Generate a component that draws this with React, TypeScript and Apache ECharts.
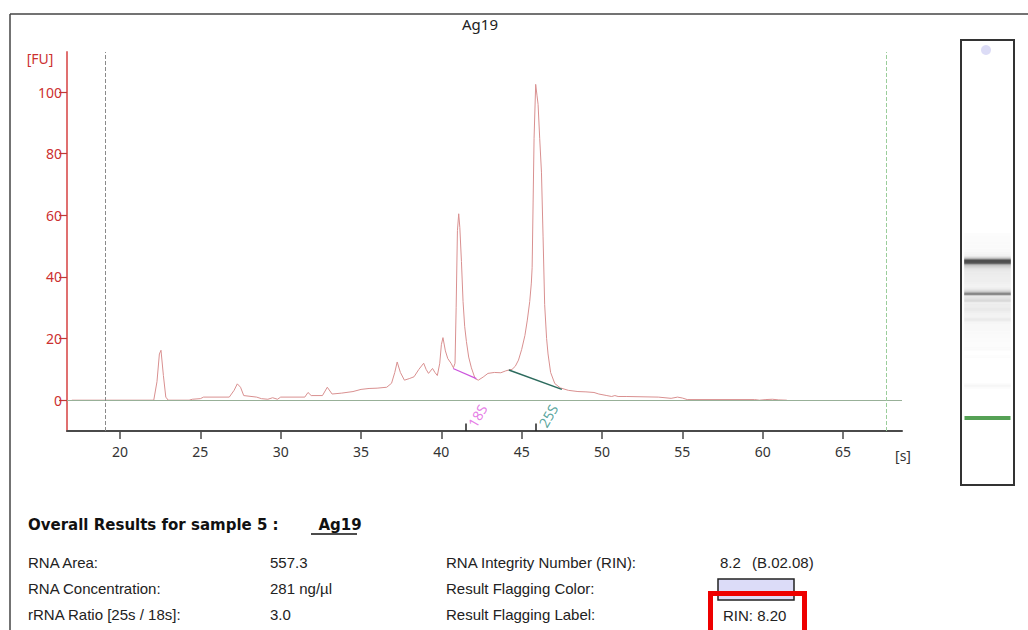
import React, { useEffect, useRef } from "react";
import * as echarts from "echarts";

const sampleName = "Ag19";

// Electropherogram trace: migration time [s] and fluorescence [FU]
const traceTime = [
  17.0, 22.1, 22.3, 22.45, 22.55, 22.7, 22.85, 23.0, 24.3, 24.5, 25.0, 25.2, 26.8, 27.1, 27.3, 27.5, 27.7,
  28.5, 28.8, 29.2, 29.5, 29.8, 30.0, 31.5, 31.7, 31.9, 32.6, 32.9, 33.2, 33.8, 34.5, 35.0, 35.5, 36.0,
  36.6, 36.9, 37.1, 37.25, 37.45, 37.7, 38.0, 38.3, 38.6, 38.9, 39.05, 39.2, 39.45, 39.6, 39.75, 39.9,
  40.0, 40.1, 40.25, 40.4, 40.6, 40.75, 40.85, 40.92, 41.0, 41.08, 41.15, 41.25, 41.35, 41.45, 41.56,
  41.7, 41.87, 42.1, 42.3, 42.6, 42.9, 43.3, 43.7, 44.0, 44.2, 44.4, 44.6, 44.8, 45.0, 45.2, 45.35, 45.5,
  45.6, 45.65, 45.71, 45.77, 45.87, 45.95, 46.02, 46.12, 46.23, 46.33, 46.43, 46.55, 46.64, 46.8, 47.06,
  47.4, 47.9, 48.5, 49.0, 49.5, 49.8, 50.3, 50.6, 50.8, 51.0, 51.5, 53.5, 54.3, 54.7, 55.0, 55.3, 59.5,
  59.8, 60.2, 60.6, 61.0, 61.5,
];
const traceFU = [
  0, 0, 6, 15, 16.2, 8, 1, 0, 0, 0.3, 0.5, 1.0, 1.0, 3.2, 5.3, 4.2, 1.5,
  1.0, 0.5, 0.3, 0.8, 0.3, 1.0, 1.0, 2.5, 1.5, 1.5, 4.2, 2.0, 2.3, 2.8, 3.5, 3.8, 3.9,
  4.2, 5.5, 9.0, 12.4, 9.0, 6.5, 7.0, 7.6, 10.0, 12.0, 10.0, 8.7, 10.3, 9.0, 8.0, 12.0,
  18.0, 20.3, 16.0, 13.5, 12.0, 10.5, 12.0, 30.0, 55.0, 60.5, 56.0, 45.0, 32.0, 24.0, 19.0,
  14.0, 10.5, 7.0, 6.5, 7.5, 8.7, 9.0, 8.9, 9.5, 9.8, 10.0, 11.0, 13.0, 16.5, 21.0, 26.0, 32.0,
  38.0, 43.0, 64.0, 85.0, 102.5, 99.0, 96.0, 85.0, 74.0, 53.0, 31.0, 20.0, 15.0, 9.0, 5.4,
  4.0, 3.2, 2.8, 2.7, 2.5, 2.0, 1.5, 1.2, 1.5, 1.2, 1.2, 1.0, 0.6, 1.0, 0.7, 0.2, 0.2,
  0.0, 0.2, 0.3, 0.1, 0.0,
];

// Axis ticks
const xTicks = [20, 25, 30, 35, 40, 45, 50, 55, 60, 65];
const yTicks = [0, 20, 40, 60, 80, 100];

// Analysis window (dashed lines) and ladder marker
const windowStart = 19.07;
const windowEnd = 67.7;
const lowerMarkerTime = 22.5;

// rRNA fragment markers
const fragmentNames = ["18S", "25S"];
const fragmentTimes = [41.5, 45.9];
const fragmentColors = ["#e060e0", "#2f8f86"];

// Peak baselines [time, FU]
const baseline18STime = [40.73, 42.18];
const baseline18SFU = [10.3, 7.0];
const baseline25STime = [44.2, 47.5];
const baseline25SFU = [9.8, 3.5];

// Results table
const resultLabelsLeft = ["RNA Area:", "RNA Concentration:", "rRNA Ratio [25s / 18s]:"];
const resultValuesLeft = ["557.3", "281 ng/µl", "3.0"];
const resultLabelsRight = ["RNA Integrity Number (RIN):", "Result Flagging Color:", "Result Flagging Label:"];
const rinValue = "8.2";
const rinVersion = "(B.02.08)";
const flagLabel = "RIN: 8.20";

export default function App() {
  const ref = useRef<HTMLDivElement>(null);

  useEffect(() => {
    if (!ref.current) return;
    const chart = echarts.init(ref.current, undefined, { renderer: "svg" });

    const trace = traceTime.map((t, i) => [t, traceFU[i]]);
    const segments = traceTime.slice(0, -1).map((t, i) => [t, traceTime[i + 1], (traceFU[i] + traceFU[i + 1]) / 2]);

    const rowY = [562, 588, 614];
    const txt = (text: string, x: number, y: number, font: string, fill = "#222", align = "left") => ({
      type: "text",
      x,
      y,
      style: { text, font, fill, textAlign: align, textVerticalAlign: "middle" },
    });
    const rowFont = '15px "Liberation Sans", Arial, sans-serif';

    const graphics: any[] = [
      { type: "line", shape: { x1: 10, y1: 14, x2: 1028, y2: 14 }, style: { stroke: "#444", lineWidth: 1.5 } },
      { type: "line", shape: { x1: 10, y1: 14, x2: 10, y2: 630 }, style: { stroke: "#444", lineWidth: 1.5 } },
      txt(sampleName, 480, 24, '15px "Noto Sans", sans-serif', "#222", "center"),
      txt("[FU]", 40, 58, '14px "Noto Sans", sans-serif', "#cc3030", "center"),
      txt("[s]", 903, 455, '14px "Noto Sans", sans-serif', "#333", "center"),
      { type: "circle", shape: { cx: 986, cy: 50, r: 5 }, style: { fill: "#dcdcf6" }, z: 10 },
      txt("Overall Results for sample 5 :", 28, 525, 'bold 15px "DejaVu Sans", sans-serif', "#111"),
      txt("  " + sampleName, 308, 525, 'bold 15px "DejaVu Sans", sans-serif', "#111"),
      { type: "line", shape: { x1: 311, y1: 534, x2: 357, y2: 534 }, style: { stroke: "#111", lineWidth: 1.3 } },
    ];
    resultLabelsLeft.forEach((s, i) => graphics.push(txt(s, 28, rowY[i], rowFont)));
    resultValuesLeft.forEach((s, i) => graphics.push(txt(s, 270, rowY[i], rowFont)));
    resultLabelsRight.forEach((s, i) => graphics.push(txt(s, 446, rowY[i], rowFont)));
    graphics.push(txt(rinValue, 720, rowY[0], rowFont));
    graphics.push(txt(rinVersion, 752, rowY[0], rowFont));
    graphics.push({
      type: "rect",
      shape: { x: 718, y: 579, width: 76, height: 21 },
      style: { fill: "#dcdcf8", stroke: "#222", lineWidth: 1.5 },
    });
    graphics.push(txt(flagLabel, 723, rowY[2] + 1, rowFont));
    graphics.push({
      type: "rect",
      shape: { x: 710.5, y: 593.5, width: 94, height: 50 },
      style: { fill: "none", stroke: "#ee0000", lineWidth: 5 },
      z: 20,
    });

    chart.setOption({
      animation: false,
      backgroundColor: "#ffffff",
      grid: [
        { left: 67, right: 126, top: 52, bottom: 199 },
        { left: 961, top: 40, width: 53, height: 445, show: true, borderColor: "#333", borderWidth: 2, backgroundColor: "#fff" },
      ],
      xAxis: [
        {
          type: "value",
          gridIndex: 0,
          min: 16.7,
          max: 68.67,
          axisLine: { show: true, onZero: false, lineStyle: { color: "#4a4a4a", width: 2 } },
          axisTick: { show: true, length: 8, customValues: xTicks, lineStyle: { color: "#4a4a4a", width: 1.5 } },
          axisLabel: { customValues: xTicks, color: "#333", fontSize: 14, fontFamily: "Noto Sans", margin: 13 },
          splitLine: { show: false },
        },
        { type: "value", gridIndex: 1, min: 0, max: 1, show: false },
      ],
      yAxis: [
        {
          type: "value",
          gridIndex: 0,
          min: -10,
          max: 113,
          axisLine: { show: true, onZero: false, lineStyle: { color: "#e07070", width: 2 } },
          axisTick: { show: true, length: 8, customValues: yTicks, lineStyle: { color: "#c03838", width: 1.2 } },
          axisLabel: { customValues: yTicks, color: "#cc3030", fontSize: 14, fontFamily: "Noto Sans", margin: 5 },
          splitLine: { show: false },
        },
        { type: "value", gridIndex: 1, min: 12.45, max: 79.2, show: false },
      ],
      series: [
        {
          type: "line",
          name: "trace",
          data: trace,
          showSymbol: false,
          symbol: "none",
          lineStyle: { color: "#d99090", width: 1 },
          z: 4,
          markLine: {
            silent: true,
            symbol: "none",
            label: { show: false },
            data: [
              { yAxis: 0, lineStyle: { color: "#98b098", width: 1, type: "solid" } },
              { xAxis: windowStart, lineStyle: { color: "#8a8a8a", width: 1, type: "dashed" } },
              { xAxis: windowEnd, lineStyle: { color: "#9acd9a", width: 1, type: "dashed" } },
              ...fragmentTimes.map((t) => [
                { coord: [t, -10], lineStyle: { color: "#222", width: 1.5, type: "solid" } },
                { coord: [t, -7.6] },
              ]),
            ],
          },
        },
        {
          type: "line",
          data: baseline18STime.map((t, i) => [t, baseline18SFU[i]]),
          showSymbol: false,
          symbol: "none",
          lineStyle: { color: "#cc55dd", width: 1.2 },
          z: 5,
        },
        {
          type: "line",
          data: baseline25STime.map((t, i) => [t, baseline25SFU[i]]),
          showSymbol: false,
          symbol: "none",
          lineStyle: { color: "#2d6b5e", width: 1.5 },
          z: 5,
        },
        {
          type: "scatter",
          clip: false,
          symbolSize: 0,
          z: 6,
          data: fragmentTimes.map((t, i) => ({
            value: [t, -10],
            label: {
              show: true,
              formatter: fragmentNames[i],
              color: fragmentColors[i],
              position: [6, -5],
              rotate: 60,
              align: "left",
              verticalAlign: "middle",
              fontSize: 14,
              fontFamily: "Noto Sans",
            },
          })),
        },
        {
          type: "custom",
          xAxisIndex: 1,
          yAxisIndex: 1,
          clip: true,
          data: segments,
          renderItem: (params: any, api: any) => {
            const t1 = api.value(0);
            const t2 = api.value(1);
            const v = api.value(2);
            if (Math.abs((t1 + t2) / 2 - lowerMarkerTime) < 0.8) return null;
            const a = Math.max(0, Math.min(1, Math.pow(v / 90, 1.15)));
            if (a < 0.01) return null;
            const p1 = api.coord([0.06, t2]);
            const p2 = api.coord([0.94, t1]);
            return {
              type: "rect",
              shape: { x: p1[0], y: p1[1], width: p2[0] - p1[0], height: Math.max(p2[1] - p1[1], 0.6) },
              style: { fill: `rgba(10,10,10,${a})` },
            };
          },
        },
        {
          type: "scatter",
          xAxisIndex: 1,
          yAxisIndex: 1,
          symbol: "rect",
          symbolSize: [46, 4],
          itemStyle: { color: "#2a8a2a" },
          data: [[0.5, lowerMarkerTime]],
        },
      ],
      graphic: graphics,
    });

    return () => chart.dispose();
  }, []);

  return <div ref={ref} style={{ position: "fixed", left: 0, top: 0, width: 1028, height: 630, background: "#fff" }} />;
}
